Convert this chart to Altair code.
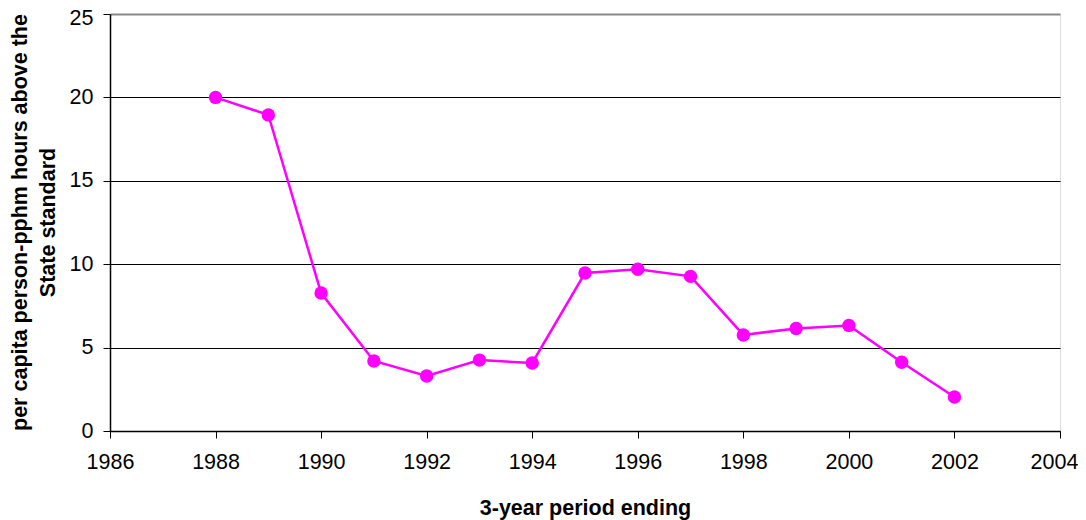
import altair as alt
import pandas as pd

years = [1988, 1989, 1990, 1991, 1992, 1993, 1994, 1995, 1996, 1997, 1998, 1999, 2000, 2001, 2002]
values = [20.0, 18.95, 8.27, 4.2, 3.3, 4.25, 4.08, 9.47, 9.7, 9.27, 5.76, 6.15, 6.33, 4.12, 2.04]
x_ticks = [1986, 1988, 1990, 1992, 1994, 1996, 1998, 2000, 2002, 2004]
y_ticks = [0, 5, 10, 15, 20, 25]

df = pd.DataFrame({"year": years, "value": values})

FONT = "Liberation Sans"
MAGENTA = "#FF00FF"
FS = 21.5

x_enc = alt.X(
    "year:Q",
    scale=alt.Scale(domain=[1986, 2004], nice=False, zero=False),
    axis=alt.Axis(
        values=x_ticks,
        format="d",
        title="3-year period ending",
        grid=False,
        tickSize=7,
        tickColor="black",
        domainColor="black",
        domainWidth=1.5,
        labelPadding=13,
        labelFontSize=FS,
        labelColor="black",
        labelFont=FONT,
        labelFlush=False,
        labelOffset={"condition": {"test": "datum.value === 2004", "value": -6}, "value": 0},
        titleFont=FONT,
        titleFontSize=FS,
        titleFontWeight="bold",
        titleColor="black",
        titleBaseline="alphabetic",
        titleY=83,
        titleX=475,
        titleAlign="center",
    ),
)
y_enc = alt.Y(
    "value:Q",
    scale=alt.Scale(domain=[0, 25], nice=False),
    axis=alt.Axis(
        values=y_ticks,
        title=["per capita person-pphm hours above the", "State standard"],
        grid=True,
        gridColor={"condition": {"test": "datum.value === 25", "value": "#888888"}, "value": "black"},
        gridWidth={"condition": {"test": "datum.value === 25", "value": 2}, "value": 1},
        tickSize=7,
        tickColor="black",
        domainColor="black",
        domainWidth=1.5,
        labelPadding=10,
        labelFontSize=FS,
        labelColor="black",
        labelFont=FONT,
        labelFlush=False,
        labelOffset={"condition": {"test": "datum.value === 25", "value": 4}, "value": 0},
        titleFont=FONT,
        titleFontSize=FS,
        titleFontWeight="bold",
        titleColor="black",
        titleAngle=-90,
        titleBaseline="top",
        titleAlign="center",
        titleX=-101,
        titleY=208,
        titleLineHeight=28,
    ),
)

line = alt.Chart(df).mark_line(color=MAGENTA, strokeWidth=2.5).encode(x=x_enc, y=y_enc)
pts = alt.Chart(df).mark_circle(color=MAGENTA, size=180, opacity=1).encode(x="year:Q", y="value:Q")

chart = (
    alt.layer(line, pts)
    .properties(
        width=950,
        height=417,
        autosize=alt.AutoSizeParams(type="none"),
        padding={"left": 102, "top": 6, "right": 18, "bottom": 89},
    )
    .configure_view(stroke="#888888", strokeWidth=2)
    .configure(background="white")
)

chart.save("out.html", embed_options={"renderer": "svg", "actions": False})
